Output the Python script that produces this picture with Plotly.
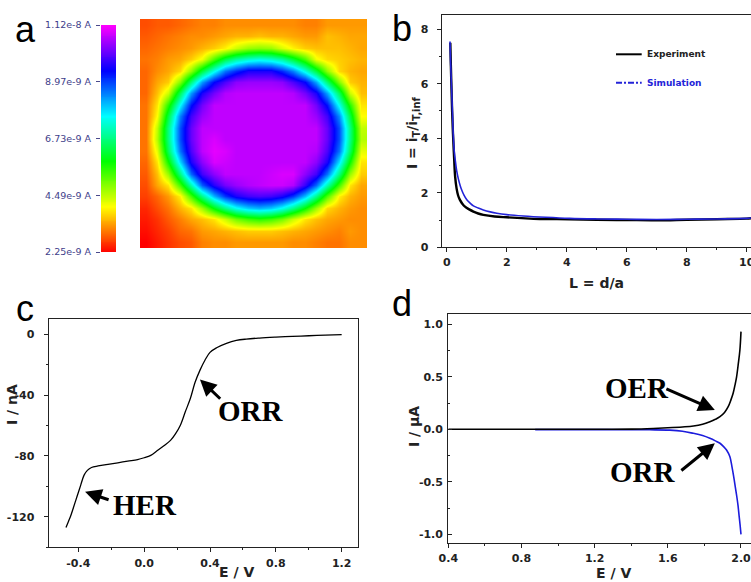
import numpy as np
import plotly.graph_objects as go

W, H = 751, 582

# ---------------- panel a : SECM image (percent of colour range)
cbar_min = 2.25e-9
cbar_max = 1.12e-8
cbar_ticks = [2.25e-9, 4.49e-9, 6.73e-9, 8.97e-9, 1.12e-8]
cbar_labels = ["2.25e-9 A", "4.49e-9 A", "6.73e-9 A", "8.97e-9 A", "1.12e-8 A"]
heat_pct = [
    [6, 7, 7, 8, 9, 10, 10, 11, 11, 11, 11, 11, 11, 11, 10, 10, 12, 12, 12, 12],
    [7, 8, 9, 10, 11, 11, 12, 13, 14, 14, 15, 14, 14, 13, 12, 12, 15, 14, 13, 13],
    [8, 9, 10, 11, 12, 14, 16, 19, 24, 28, 29, 28, 23, 19, 16, 15, 15, 15, 14, 13],
    [9, 10, 12, 13, 16, 21, 34, 45, 52, 56, 58, 56, 52, 44, 34, 21, 17, 16, 15, 14],
    [8, 11, 13, 17, 29, 45, 59, 71, 77, 82, 82, 82, 77, 70, 58, 45, 29, 17, 14, 13],
    [8, 13, 16, 30, 50, 68, 80, 86, 91, 92, 92, 92, 91, 86, 80, 67, 49, 30, 16, 14],
    [8, 15, 24, 47, 68, 82, 89, 94, 95, 95, 95, 95, 95, 94, 89, 82, 67, 47, 24, 15],
    [9, 18, 37, 60, 79, 89, 95, 95, 95, 95, 95, 95, 95, 95, 95, 89, 79, 59, 37, 18],
    [9, 20, 45, 70, 85, 92, 95, 95, 95, 95, 95, 95, 95, 95, 95, 92, 85, 69, 45, 20],
    [9, 25, 50, 74, 88, 95, 95, 95, 95, 95, 95, 95, 95, 95, 95, 95, 88, 74, 50, 25],
    [9, 26, 50, 74, 88, 95, 97, 95, 95, 95, 95, 95, 95, 95, 95, 95, 88, 74, 50, 26],
    [9, 22, 47, 71, 86, 95, 98, 97, 95, 95, 95, 95, 95, 95, 95, 94, 86, 71, 47, 22],
    [8, 18, 39, 63, 82, 91, 97, 96, 95, 95, 95, 95, 95, 95, 95, 91, 82, 62, 39, 18],
    [7, 15, 28, 50, 72, 85, 91, 95, 95, 95, 95, 96, 97, 97, 91, 85, 71, 50, 28, 16],
    [6, 13, 18, 35, 54, 73, 83, 89, 92, 94, 95, 96, 96, 94, 84, 72, 54, 35, 18, 13],
    [5, 8, 12, 19, 35, 51, 66, 76, 82, 85, 86, 85, 82, 76, 65, 51, 34, 19, 14, 12],
    [3, 6, 9, 14, 18, 28, 41, 51, 59, 64, 66, 64, 59, 51, 40, 28, 17, 14, 12, 11],
    [2, 4, 7, 10, 13, 15, 18, 24, 31, 35, 37, 35, 31, 24, 18, 15, 13, 12, 11, 11],
    [1, 3, 5, 8, 9, 12, 13, 14, 15, 16, 16, 16, 15, 14, 13, 12, 11, 10, 12, 11],
    [0, 2, 4, 6, 7, 10, 11, 11, 12, 12, 12, 12, 12, 11, 11, 10, 9, 9, 11, 11],
]

# ---------------- panel b : approach curves
b_L_exp = [0.12, 0.14, 0.16, 0.18, 0.20, 0.22, 0.25, 0.28, 0.33, 0.38, 0.44, 0.52, 0.61, 0.75,
           0.89, 1.05, 1.22, 1.6, 2.0, 2.5, 3.1, 4.1, 5.0, 6.0, 7.0, 8.0, 9.0, 10.0, 10.2]
b_I_exp = [7.50, 6.60, 5.80, 5.00, 4.40, 3.90, 3.20, 2.60, 2.15, 1.90, 1.74, 1.60, 1.49, 1.39,
           1.31, 1.24, 1.19, 1.13, 1.10, 1.07, 1.04, 1.03, 1.01, 1.00, 0.99, 1.01, 1.03, 1.05, 1.07]
b_L_sim = [0.11, 0.13, 0.15, 0.17, 0.19, 0.22, 0.25, 0.29, 0.33, 0.39, 0.45, 0.50, 0.58, 0.67,
           0.78, 0.89, 1.05, 1.22, 1.45, 1.67, 2.0, 2.55, 3.3, 4.1, 5.0, 6.0, 7.0, 8.0, 9.0, 10.0, 10.2]
b_I_sim = [7.55, 6.80, 6.20, 5.60, 5.00, 4.10, 3.55, 3.15, 2.82, 2.50, 2.26, 2.10, 1.90, 1.74,
           1.62, 1.52, 1.44, 1.37, 1.30, 1.25, 1.20, 1.15, 1.10, 1.06, 1.04, 1.03, 1.02, 1.03, 1.04, 1.06, 1.08]

# ---------------- panel c : HER / ORR voltammogram (nA)
c_E = [-0.475, -0.46, -0.445, -0.43, -0.415, -0.40, -0.385, -0.365, -0.345, -0.32, -0.28, -0.22,
       -0.16, -0.10, -0.04, 0.00, 0.04, 0.08, 0.12, 0.16, 0.19, 0.22, 0.25, 0.28, 0.31, 0.34,
       0.37, 0.40, 0.44, 0.50, 0.56, 0.62, 0.70, 0.80, 0.90, 1.00, 1.10, 1.20]
c_I = [-127, -123, -118.9, -114, -109, -104, -99, -92.6, -89.5, -87.6, -86.6, -85.5,
       -84.5, -83.4, -82.4, -81.2, -79.6, -76.5, -73.3, -69.8, -65.5, -59.8, -51, -42.5, -31.5, -23.5,
       -17, -12, -9, -6.1, -4.2, -3.3, -2.6, -2.0, -1.5, -1.1, -0.7, -0.3]

# ---------------- panel d : OER / ORR (uA)
d_E_oer = [0.40, 0.60, 0.80, 1.00, 1.20, 1.40, 1.52, 1.60, 1.68, 1.74, 1.79, 1.83, 1.86, 1.885,
           1.91, 1.93, 1.945, 1.957, 1.967, 1.976, 1.985, 1.994, 2.0]
d_I_oer = [0.0, 0.0, 0.0, 0.0, 0.0, 0.002, 0.008, 0.014, 0.022, 0.031, 0.048, 0.072, 0.095, 0.12,
           0.16, 0.215, 0.28, 0.343, 0.42, 0.50, 0.62, 0.755, 0.93]
d_E_orr = [0.875, 1.0, 1.2, 1.4, 1.5, 1.611, 1.68, 1.739, 1.79, 1.83, 1.86, 1.885, 1.905, 1.921,
           1.939, 1.95, 1.96, 1.969, 1.977, 1.984, 1.99, 1.995, 2.0]
d_I_orr = [-0.003, -0.003, -0.003, -0.004, -0.005, -0.008, -0.018, -0.038, -0.06, -0.086, -0.11,
           -0.133, -0.165, -0.197, -0.26, -0.35, -0.45, -0.55, -0.64, -0.73, -0.83, -0.91, -1.0]

# ---------------- styling helpers
def fx(px):
    return px / W

def fy(py):
    return 1 - py / H

TICK_FONT = dict(family="DejaVu Sans", size=11, color="#222222", weight="bold")
TITLE_FONT = dict(family="DejaVu Sans", size=14, color="#222222", weight="bold")
AX_COL = "#222222"
colorscale = [[0, "#ff0000"], [0.1, "#ff8000"], [0.2, "#ffff00"], [0.4, "#00ff00"],
              [0.6, "#00ffff"], [0.8, "#0000ff"], [0.9, "#8000ff"], [1, "#ff00ff"]]

z_heat = [[cbar_min + p / 100 * (cbar_max - cbar_min) for p in row] for row in heat_pct]
bar_levels = np.linspace(cbar_min, cbar_max, 120)

fig = go.Figure()
fig.add_trace(go.Heatmap(z=z_heat, x=list(range(20)), y=list(range(20)), zsmooth="best",
                         colorscale=colorscale, zmin=cbar_min, zmax=cbar_max, showscale=False,
                         xaxis="x", yaxis="y", hoverinfo="skip"))
fig.add_trace(go.Heatmap(z=[[v, v] for v in bar_levels], x=[0, 1], y=bar_levels, zsmooth="best",
                         colorscale=colorscale, zmin=cbar_min, zmax=cbar_max, showscale=False,
                         xaxis="x2", yaxis="y2", hoverinfo="skip"))
fig.add_trace(go.Scatter(x=b_L_exp, y=b_I_exp, mode="lines", line=dict(color="black", width=2.4),
                         xaxis="x3", yaxis="y3", line_shape="spline"))
fig.add_trace(go.Scatter(x=b_L_sim, y=b_I_sim, mode="lines", line=dict(color="#2323d8", width=1.6),
                         xaxis="x3", yaxis="y3", line_shape="spline"))
fig.add_trace(go.Scatter(x=c_E, y=c_I, mode="lines", line=dict(color="black", width=1.3),
                         xaxis="x4", yaxis="y4", line_shape="spline"))
fig.add_trace(go.Scatter(x=d_E_orr, y=d_I_orr, mode="lines", line=dict(color="#1c1cdc", width=1.6),
                         xaxis="x5", yaxis="y5", line_shape="spline"))
fig.add_trace(go.Scatter(x=d_E_oer, y=d_I_oer, mode="lines", line=dict(color="black", width=1.6),
                         xaxis="x5", yaxis="y5", line_shape="spline"))


def axis(domain, rng, anchor, **kw):
    d = dict(domain=domain, range=rng, anchor=anchor, showgrid=False, zeroline=False,
             showline=True, linecolor=AX_COL, linewidth=1.3, ticks="outside", ticklen=4,
             tickwidth=1.2, tickcolor=AX_COL, tickfont=TICK_FONT, automargin=False,
             ticklabeloverflow="allow")
    d.update(kw)
    return d


def minor(t0, dt, pos="outside"):
    return dict(tick0=t0, dtick=dt, ticks=pos, ticklen=2, tickwidth=1, tickcolor=AX_COL, showgrid=False)


layout = dict(
    template="none",
    width=W, height=H, margin=dict(l=0, r=0, t=0, b=0, pad=0), showlegend=False,
    paper_bgcolor="white", plot_bgcolor="white",
    # panel a
    xaxis=dict(domain=[fx(140), fx(367)], range=[-0.5, 19.5], visible=False, anchor="y", automargin=False),
    yaxis=dict(domain=[fy(248), fy(19)], range=[19.5, -0.5], visible=False, anchor="x", automargin=False),
    xaxis2=dict(domain=[fx(101), fx(116)], range=[-0.5, 1.5], visible=False, anchor="y2", automargin=False),
    yaxis2=dict(domain=[fy(252), fy(25)], range=[cbar_min, cbar_max], anchor="x2", showgrid=False,
                zeroline=False, showline=False, side="left", ticks="outside", ticklen=4,
                tickcolor="#4a4a8c", tickvals=cbar_ticks, ticktext=cbar_labels, ticklabelstandoff=3,
                automargin=False, ticklabeloverflow="allow",
                tickfont=dict(family="DejaVu Sans", size=9.5, color="#3e3e8a")),
    # panel b
    xaxis3=axis([fx(441.7), 1.0], [-0.167, 10.143], "y3", mirror=True,
                tickvals=[0, 2, 4, 6, 8, 10], ticktext=["0", "2", "4", "6", "8", "10"],
                minor=minor(0, 1), ticklabelstandoff=0),
    yaxis3=axis([fy(247.3), fy(14.7)], [0, 8.53], "x3", mirror=False,
                tickvals=[0, 2, 4, 6, 8], ticktext=["0", "2", "4", "6", "8"],
                minor=minor(0, 1), ticklabelstandoff=6),
    # panel c
    xaxis4=axis([fx(48.7), fx(358.3)], [-0.58, 1.301], "y4", mirror=True,
                tickvals=[-0.4, 0.0, 0.4, 0.8, 1.2], ticktext=["-0.4", "0.0", "0.4", "0.8", "1.2"],
                minor=minor(0, 0.2), ticklabelstandoff=1),
    yaxis4=axis([fy(547.3), fy(319)], [-140, 9.9], "x4", mirror=True,
                tickvals=[0, -40, -80, -120], ticktext=["0", "-40", "-80", "-120"],
                minor=minor(0, 20), ticklabelstandoff=7),
    # panel d
    xaxis5=axis([fx(448.3), 1.0], [0.4, 2.0547], "y5", mirror=True,
                tickvals=[0.4, 0.8, 1.2, 1.6, 2.0], ticktext=["0.4", "0.8", "1.2", "1.6", "2.0"],
                minor=minor(0, 0.2), ticklabelstandoff=1),
    yaxis5=axis([fy(542.7), fy(314)], [-1.08, 1.098], "x5", mirror=False, ticks="inside",
                tickvals=[1.0, 0.5, 0.0, -0.5, -1.0], ticktext=["1.0", "0.5", "0.0", "-0.5", "-1.0"],
                minor=minor(0, 0.25, "inside"), ticklabelstandoff=2),
)
fig.update_layout(**layout)

ann = []
# panel letters
for letter, (px, py) in {"a": (25, 29.5), "b": (402, 28), "c": (25, 308), "d": (402, 303)}.items():
    ann.append(dict(text=letter, x=fx(px), y=fy(py), xref="paper", yref="paper", showarrow=False,
                    xanchor="center", yanchor="middle",
                    font=dict(family="Liberation Sans", size=36, color="black")))
# axis titles
titles = [
    ("L = d/a", 596.7, 283.3, 0),
    ("I = i<sub>T</sub>/i<sub>T,inf</sub>", 413, 133, -90),
    ("E / V", 236, 572, 0),
    ("I / nA", 12, 405, -90),
    ("E / V", 613.3, 573, 0),
    ("I / μA", 414, 427, -90),
]
for t, px, py, ang in titles:
    ann.append(dict(text=t, x=fx(px), y=fy(py), xref="paper", yref="paper", showarrow=False,
                    xanchor="center", yanchor="middle", textangle=ang, font=TITLE_FONT))
# legend of panel b
ann.append(dict(text="Experiment", x=fx(645), y=fy(54.3), xref="paper", yref="paper", showarrow=False,
                xanchor="left", yanchor="middle",
                font=dict(family="DejaVu Sans", size=9, color="#222222", weight="bold")))
ann.append(dict(text="Simulation", x=fx(645), y=fy(82.7), xref="paper", yref="paper", showarrow=False,
                xanchor="left", yanchor="middle",
                font=dict(family="DejaVu Sans", size=9, color="#2323d8", weight="bold")))
# reaction labels
SERIF = dict(family="Liberation Serif", size=29, color="black", weight="bold")
for t, x, y, xr, yr in [("ORR", 0.647, -50.4, "x4", "y4"), ("HER", 0.005, -112.4, "x4", "y4"),
                        ("OER", 1.43, 0.39, "x5", "y5"), ("ORR", 1.466, -0.404, "x5", "y5")]:
    ann.append(dict(text=t, x=x, y=y, xref=xr, yref=yr, showarrow=False, xanchor="center",
                    yanchor="middle", font=SERIF))
# arrows
for (tx, ty, sx, sy, xr, yr) in [(0.339, -29.8, 0.471, -43.4, "x4", "y4"),
                                 (-0.359, -103.6, -0.207, -109.1, "x4", "y4"),
                                 (1.857, 0.184, 1.584, 0.39, "x5", "y5"),
                                 (1.857, -0.133, 1.666, -0.404, "x5", "y5")]:
    ann.append(dict(text="", x=tx, y=ty, ax=sx, ay=sy, xref=xr, yref=yr, axref=xr, ayref=yr,
                    showarrow=True, arrowhead=2, arrowsize=1.1, arrowwidth=3, arrowcolor="black",
                    standoff=0, startstandoff=0))
fig.update_layout(annotations=ann)

fig.update_layout(shapes=[
    dict(type="line", xref="paper", yref="paper", x0=fx(616), x1=fx(641.7), y0=fy(54.3), y1=fy(54.3),
         line=dict(color="black", width=2)),
    dict(type="line", xref="paper", yref="paper", x0=fx(616), x1=fx(641.7), y0=fy(82.7), y1=fy(82.7),
         line=dict(color="#2323d8", width=2, dash="6px,2px,2px,2px")),
])

fig.write_html("out.html", config={"displayModeBar": False},
               post_script="document.body.style.margin='0';document.body.style.padding='0';")
